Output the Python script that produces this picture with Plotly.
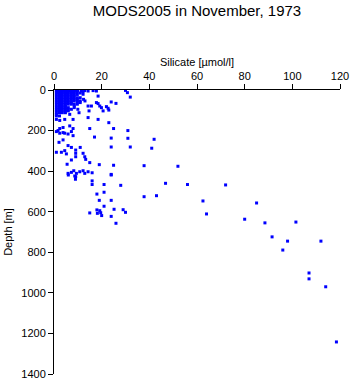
import plotly.graph_objects as go

title_text = "MODS2005 in November, 1973"
x_label = "Silicate [µmol/l]"
y_label = "Depth [m]"
x_ticks = [0, 20, 40, 60, 80, 100, 120]
y_ticks = [0, 200, 400, 600, 800, 1000, 1200, 1400]

# Silicate [umol/l] and depth [m] pairs
silicate = [
    # dense near-surface block
    1, 2, 3, 4, 5, 6, 7, 8, 9, 10, 11.5, 12.9, 14.3, 16.4, 17.8,
    1, 2.3, 3.5, 4.8, 6, 7.3, 8.5, 9.8, 12.2,
    1, 2.3, 3.5, 4.8, 6, 7.3, 8.5, 11,
    1, 2.3, 3.5, 4.8, 6, 7.3, 8.5, 9.8, 12.2,
    1, 2.3, 3.5, 4.8, 6, 7.3, 8.5, 18.5,
    1, 2.3, 3.5, 4.8, 6, 7.3, 8.5, 9.8, 11,
    1, 2.3, 3.5, 4.8, 6, 7.3, 8.5, 9.8, 12.4,
    1, 2.3, 3.5, 4.8, 6, 7.3, 8.5, 9.8, 11, 13,
    1, 2.3, 3.5, 4.8, 6, 7.3, 9.8, 11, 17.8,
    18.5,
    1, 2.3, 3.5, 4.8, 6, 7.3, 8.5, 9.8,
    1, 2.3, 3.5, 4.8, 8.5, 14.3, 15.7, 19.2,
    1, 2.3, 3.5, 4.8, 6, 8.5, 19.9,
    1, 2.3, 3.5, 4.8, 6, 7.3, 10,
    1, 2.3, 3.5, 4.8, 6, 14.7, 20.6,
    1, 2.3, 3.5, 4.8, 10.5,
    1, 6.6,
    1, 2.3,
    14.3,
    1, 4.5, 8, 18.5,
    2.4,
    6.6,
    3.8,
    2.4, 8, 15,
    1.7,
    3.8,
    # upper right of cluster
    30, 30.8, 32, 24, 26, 22, 22.7, 23, 23, 25, 31,
    24, 31, 42, 24, 32, 41, 25, 37.8, 52, 24,
    # 200-450 m
    1, 2.4, 4.5, 5.9, 7.3, 8, 17, 2.1, 3.8, 5.9, 7.3, 9.1, 9.1, 9.1,
    11, 12.2, 12.9, 13.3, 1, 3.1, 4.5, 5.2, 7.3, 5.5, 15, 19,
    5.9, 7.3, 8.3, 9.4, 10.8, 12.2, 12.9, 9.1, 16, 14.3,
    # 400-660 m
    6, 8.7, 9, 16, 21, 16, 28, 24, 21, 18, 19, 24, 21, 18, 19.2,
    25.2, 29, 30, 15, 18.2, 20, 24, 19.6, 26,
    46.8, 56, 72, 37.8, 43,
    # deep points
    62.5, 85, 64, 80, 88.5, 101.5, 91.5, 98, 112, 96, 107, 107, 114, 118.5,
]
depth = [
    2, 2, 2, 2, 2, 2, 2, 2, 2, 2, 5, 3, 5, 3, 5,
    8, 8, 8, 8, 8, 8, 8, 8, 8,
    15, 15, 15, 15, 15, 15, 15, 15,
    22, 22, 22, 22, 22, 22, 22, 22, 21,
    30, 30, 30, 30, 30, 30, 30, 30,
    38, 38, 38, 38, 38, 38, 38, 38, 38,
    46, 46, 46, 46, 46, 46, 46, 46, 46,
    54, 54, 54, 54, 54, 54, 54, 54, 54, 54,
    62, 62, 62, 62, 62, 62, 62, 62, 62,
    67,
    70, 70, 70, 70, 70, 70, 70, 70,
    79, 79, 79, 79, 79, 79, 79, 79,
    87, 87, 87, 87, 87, 87, 87,
    95, 95, 95, 95, 95, 95, 95,
    103, 103, 103, 103, 103, 103, 103,
    112, 112, 112, 112, 112,
    120, 120,
    128, 128,
    136,
    145, 145, 145, 145,
    150,
    177,
    185,
    190, 190, 190,
    200,
    210,
    2, 13, 35, 59, 66, 82, 90, 99, 161, 190, 200,
    237, 238, 243, 281, 281, 287, 371, 373, 376, 416,
    205, 213, 213, 217, 205, 225, 232, 258, 246, 274, 283, 296, 312, 329,
    283, 312, 329, 342, 307, 307, 299, 315, 345, 366, 358, 368,
    411, 406, 398, 411, 403, 398, 411, 427, 408, 403,
    419, 424, 440, 448, 466, 466, 470, 419, 504, 513, 544, 544, 573, 591, 595,
    588, 590, 603, 606, 608, 619, 623, 605, 657,
    460, 466, 468, 526, 521,
    547, 557, 611, 637, 655, 651, 724, 745, 745, 789, 902, 931, 970, 1242,
]

font_family = "Liberation Sans, Arial, sans-serif"

fig = go.Figure(
    go.Scatter(
        x=silicate,
        y=depth,
        mode="markers",
        marker=dict(symbol="square", size=3, color="#0000ff", line=dict(width=0)),
        hoverinfo="x+y",
    )
)

fig.update_layout(
    width=351,
    height=384,
    margin=dict(l=54, r=11, t=90, b=10, autoexpand=False),
    paper_bgcolor="white",
    plot_bgcolor="white",
    showlegend=False,
    font=dict(family=font_family, color="black", size=11),
    title=dict(
        text=title_text,
        x=0.5,
        xref="paper",
        xanchor="center",
        y=1 - 11 / 384,
        yref="container",
        yanchor="middle",
        font=dict(size=15, family=font_family, color="black"),
    ),
)

fig.update_xaxes(
    side="top",
    range=[0, 120],
    tickvals=x_ticks,
    ticktext=[str(v) for v in x_ticks],
    ticks="outside",
    ticklen=5,
    tickcolor="black",
    tickwidth=1,
    showline=True,
    linecolor="black",
    linewidth=1,
    showgrid=False,
    zeroline=False,
    mirror=False,
    automargin=False,
    title=dict(text=x_label, font=dict(size=11), standoff=0),
    tickfont=dict(size=11),
)

fig.update_yaxes(
    range=[1400, 0],
    tickvals=y_ticks,
    ticktext=[str(v) for v in y_ticks],
    ticks="outside",
    ticklen=5,
    tickcolor="black",
    tickwidth=1,
    showline=True,
    linecolor="black",
    linewidth=1,
    showgrid=False,
    zeroline=False,
    mirror=False,
    automargin=False,
    title=dict(text=y_label, font=dict(size=11), standoff=6),
    tickfont=dict(size=11),
)

fig.write_html("out.html")
